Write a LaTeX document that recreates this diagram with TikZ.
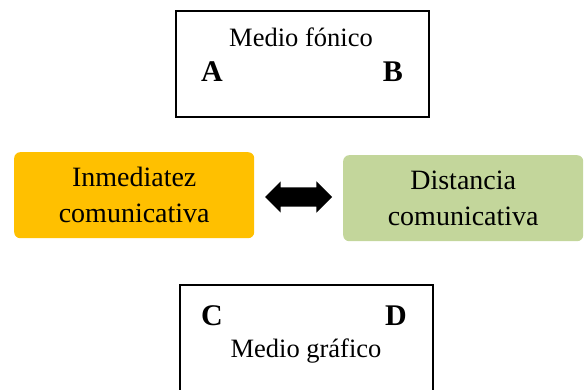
\documentclass[tikz,border=0pt]{standalone}
\usepackage{fontspec}
\setmainfont{Liberation Serif}
\usetikzlibrary{positioning,shapes,shapes.arrows}
\definecolor{gold}{HTML}{FFC000}
\definecolor{olive}{HTML}{C3D69B}
\tikzset{
	every node/.style = {inner sep = 0},
	medio/.style = {draw, line width=1.6pt, minimum width=253pt, minimum height=106pt},
	polo/.style = {rounded corners=6pt, minimum width=240pt, minimum height=86pt, align=center,
		font=\fontsize{28}{36}\selectfont},
	letra/.style = {anchor=base, font=\fontsize{30}{32}\selectfont\bfseries},
	rotulo/.style = {anchor=base, font=\fontsize{26.5}{30}\selectfont}
}

\begin{document}
\begin{tikzpicture}[x=1pt, y=-1pt]
		\useasboundingbox (0,0) rectangle (584,390);
		\node(fonico)[medio, anchor=north west] at (175,10) {};
		\node(fonicotxt)[rotulo] at (301,47) {Medio fónico};
		\node(A)[letra] at (212,82) {A};
		\node(B)[letra] at (393,82) {B};
		
		\node(inmediatez)[polo, fill=gold, anchor=north west] at (14,152) {Inmediatez\\comunicativa};
		\node(flecha)[double arrow, fill=black, minimum height=67pt, inner xsep=0pt, inner ysep=9.5pt,
			double arrow head extend=6pt] at (298.5,197) {};
		\node(distancia)[polo, fill=olive, anchor=north west] at (343,155) {Distancia\\comunicativa};
		
		\node(grafico)[medio, anchor=north west] at (179,284) {};
		\node(C)[letra] at (212,325) {C};
		\node(D)[letra] at (396,325) {D};
		\node(graficotxt)[rotulo] at (306,357) {Medio gráfico};
\end{tikzpicture}
\end{document}
